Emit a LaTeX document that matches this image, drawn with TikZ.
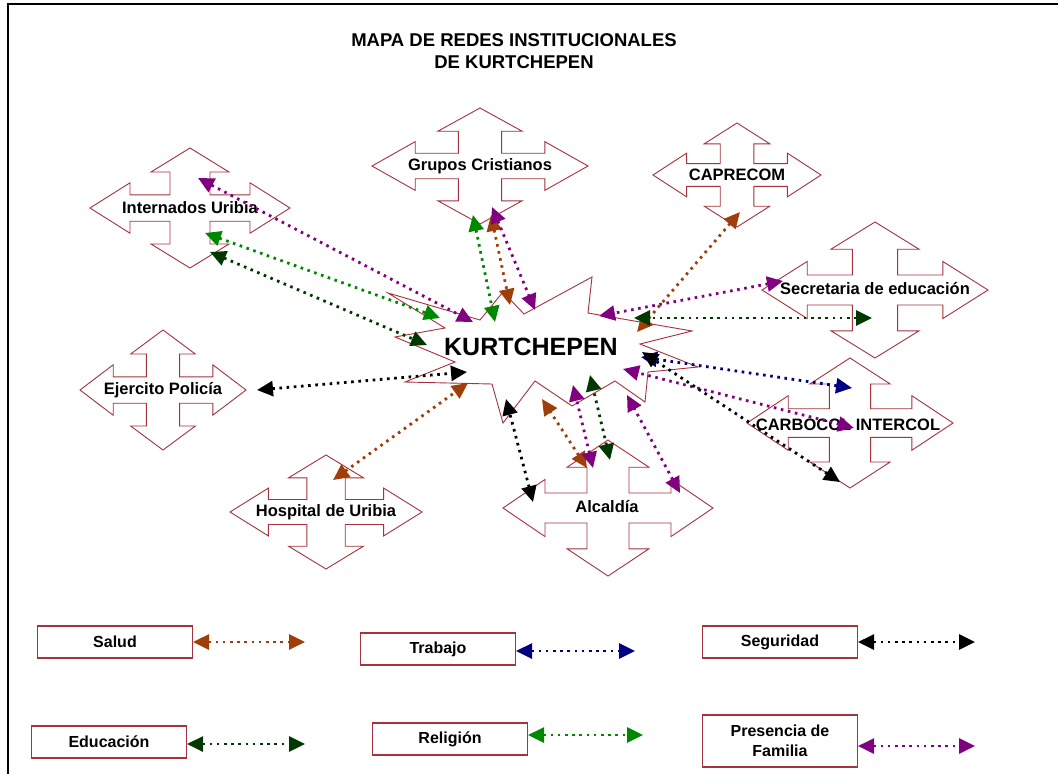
\documentclass[tikz,border=0pt]{standalone}
\usepackage{fontspec}
\setmainfont{Liberation Sans}
\usetikzlibrary{arrows.meta}

\definecolor{saludc}{RGB}{160,62,10}
\definecolor{trabc}{RGB}{0,0,128}
\definecolor{educc}{RGB}{0,56,0}
\definecolor{religc}{RGB}{0,135,0}
\definecolor{famc}{RGB}{128,0,128}
\definecolor{bordec}{RGB}{165,50,60}

% Kreuzpfeil: Mitte (#1,#2), halbe Breite #3, halbe Hoehe #4
\newcommand{\cruz}[4]{%
  \begin{scope}[shift={(#1,#2)}, xscale=#3, yscale=#4]
    \draw[forma] (0,-1) -- (0.39,-0.6) -- (0.2,-0.6) -- (0.2,-0.22) -- (0.6,-0.22) -- (0.6,-0.42)
      -- (1,0) -- (0.6,0.42) -- (0.6,0.22) -- (0.2,0.22) -- (0.2,0.6) -- (0.39,0.6)
      -- (0,1) -- (-0.39,0.6) -- (-0.2,0.6) -- (-0.2,0.22) -- (-0.6,0.22) -- (-0.6,0.42)
      -- (-1,0) -- (-0.6,-0.42) -- (-0.6,-0.22) -- (-0.2,-0.22) -- (-0.2,-0.6) -- (-0.39,-0.6) -- cycle;
  \end{scope}}

\begin{document}
\begin{tikzpicture}[x=1pt, y=-1pt,
    forma/.style={draw=bordec, fill=white, line width=0.9pt, line join=miter},
    etiq/.style={font=\fontsize{16.5}{19}\selectfont\bfseries, inner sep=0pt},
    leyenda/.style={draw=bordec, fill=white, line width=1.1pt, minimum width=155pt, minimum height=32pt,
      align=center, font=\fontsize{16}{20}\selectfont\bfseries, inner sep=2pt},
    enlace/.style={{Triangle[length=16pt,width=15pt]}-{Triangle[length=16pt,width=15pt]},
      line width=2.8pt, dash pattern=on 2.6pt off 4.6pt},
    salud/.style={enlace, saludc},
    trabajo/.style={enlace, trabc},
    seguridad/.style={enlace, black},
    educacion/.style={enlace, educc},
    religion/.style={enlace, religc},
    familia/.style={enlace, famc}]
  \useasboundingbox (0,0) rectangle (1058,774);
  % Rahmen
  \draw[line width=2.2pt] (8,780) -- (8,4) -- (1065,4);
  % Titel
  \node[font=\fontsize{18.5}{22}\selectfont\bfseries, align=center] (titulo) at (514,51)
    {MAPA DE REDES INSTITUCIONALES\\DE KURTCHEPEN};

  % Kreuzpfeile
  \cruz{190}{208}{100}{60}
  \cruz{480}{166}{108}{58}
  \cruz{737}{175}{84}{52}
  \cruz{875}{290}{113}{68}
  \cruz{163}{390}{83}{60}
  \cruz{326}{512}{96}{57}
  \cruz{608}{508}{105}{68}
  \cruz{850}{423}{103}{65}

  % Stern in der Mitte
  \draw[forma] (388,293) -- (480,320) -- (503,292) -- (524,314) -- (592,277) -- (588,313)
    -- (692,331) -- (640,344) -- (698,367) -- (648,372) -- (645,402) -- (615,381)
    -- (572,406) -- (535,381) -- (503,423) -- (492,384) -- (405,382) -- (455,362)
    -- (395,337) -- (445,328) -- cycle;

  % Beschriftung
  \node[etiq] (intern) at (190,208) {Internados Uribia};
  \node[etiq] (grupos) at (480,166) {Grupos Cristianos};
  \node[etiq] (caprecom) at (737,175) {CAPRECOM};
  \node[etiq] (secre) at (875,289) {Secretaria de educación};
  \node[etiq] (ejer) at (163,390) {Ejercito Policía};
  \node[etiq] (hosp) at (326,512) {Hospital de Uribia};
  \node[etiq] (alcal) at (607,507) {Alcaldía};
  \node[etiq] (carbo) at (848,425) {CARBOCOL INTERCOL};
  \node[font=\fontsize{25}{28}\selectfont\bfseries, inner sep=0pt] (kurt) at (531,347) {KURTCHEPEN};

  % Verbindungen
  \draw[familia] ([shift={(8,-30)}]intern.center) -- ([shift={(-58,-25)}]kurt.center);
  \draw[religion] ([shift={(15,25)}]intern.center) -- ([shift={(-91,-29)}]kurt.center);
  \draw[educacion] ([shift={(20,44)}]intern.center) -- ([shift={(-104,-2)}]kurt.center);
  \draw[religion] ([shift={(-7,49)}]grupos.center) -- ([shift={(-36,-25)}]kurt.center);
  \draw[salud] ([shift={(11,49)}]grupos.center) -- ([shift={(-21,-42)}]kurt.center);
  \draw[familia] ([shift={(12,41)}]grupos.center) -- ([shift={(4,-37)}]kurt.center);
  \draw[salud] ([shift={(3,37)}]caprecom.center) -- ([shift={(106,-15)}]kurt.center);
  \draw[familia] ([shift={(-92,-8)}]secre.center) -- ([shift={(68,-31)}]kurt.center);
  \draw[educacion] ([shift={(-3,29)}]secre.center) -- ([shift={(103,-29)}]kurt.center);
  \draw[trabajo] ([shift={(4,-37)}]carbo.center) -- ([shift={(110,10)}]kurt.center);
  \draw[familia] ([shift={(6,3)}]carbo.center) -- ([shift={(92,22)}]kurt.center);
  \draw[seguridad] ([shift={(-8,57)}]carbo.center) -- ([shift={(111,5)}]kurt.center);
  \draw[seguridad] ([shift={(94,0)}]ejer.center) -- ([shift={(-64,25)}]kurt.center);
  \draw[salud] ([shift={(7,-32)}]hosp.center) -- ([shift={(-63,36)}]kurt.center);
  \draw[seguridad] ([shift={(-74,-5)}]alcal.center) -- ([shift={(-25,52)}]kurt.center);
  \draw[salud] ([shift={(-20,-39)}]alcal.center) -- ([shift={(11,52)}]kurt.center);
  \draw[familia] ([shift={(-14,-39)}]alcal.center) -- ([shift={(42,38)}]kurt.center);
  \draw[educacion] ([shift={(3,-47)}]alcal.center) -- ([shift={(59,28)}]kurt.center);
  \draw[familia] ([shift={(73,-14)}]alcal.center) -- ([shift={(96,48)}]kurt.center);

  % Legende
  \node[leyenda] (lsalud) at (115,642) {Salud};
  \node[leyenda] (ltrab) at (438,649) {Trabajo};
  \node[leyenda] (lseg) at (780,642) {Seguridad};
  \node[leyenda] (leduc) at (109,742) {Educación};
  \node[leyenda] (lrelig) at (450,739) {Religión};
  \node[leyenda, minimum height=52pt] (lfam) at (780,741) {Presencia de\\Familia};
  \coordinate (esalud) at (305,642);
  \coordinate (etrab) at (635,651);
  \coordinate (eseg) at (975,642);
  \coordinate (eeduc) at (305,744);
  \coordinate (erelig) at (643,735);
  \coordinate (efam) at (975,746);
  \draw[salud] (lsalud.east) -- (esalud);
  \draw[trabajo] ([yshift=-2pt]ltrab.east) -- (etrab);
  \draw[seguridad] (lseg.east) -- (eseg);
  \draw[educacion] ([yshift=-2pt]leduc.east) -- (eeduc);
  \draw[religion] ([yshift=4pt]lrelig.east) -- (erelig);
  \draw[familia] ([yshift=-5pt]lfam.east) -- (efam);
\end{tikzpicture}
\end{document}
